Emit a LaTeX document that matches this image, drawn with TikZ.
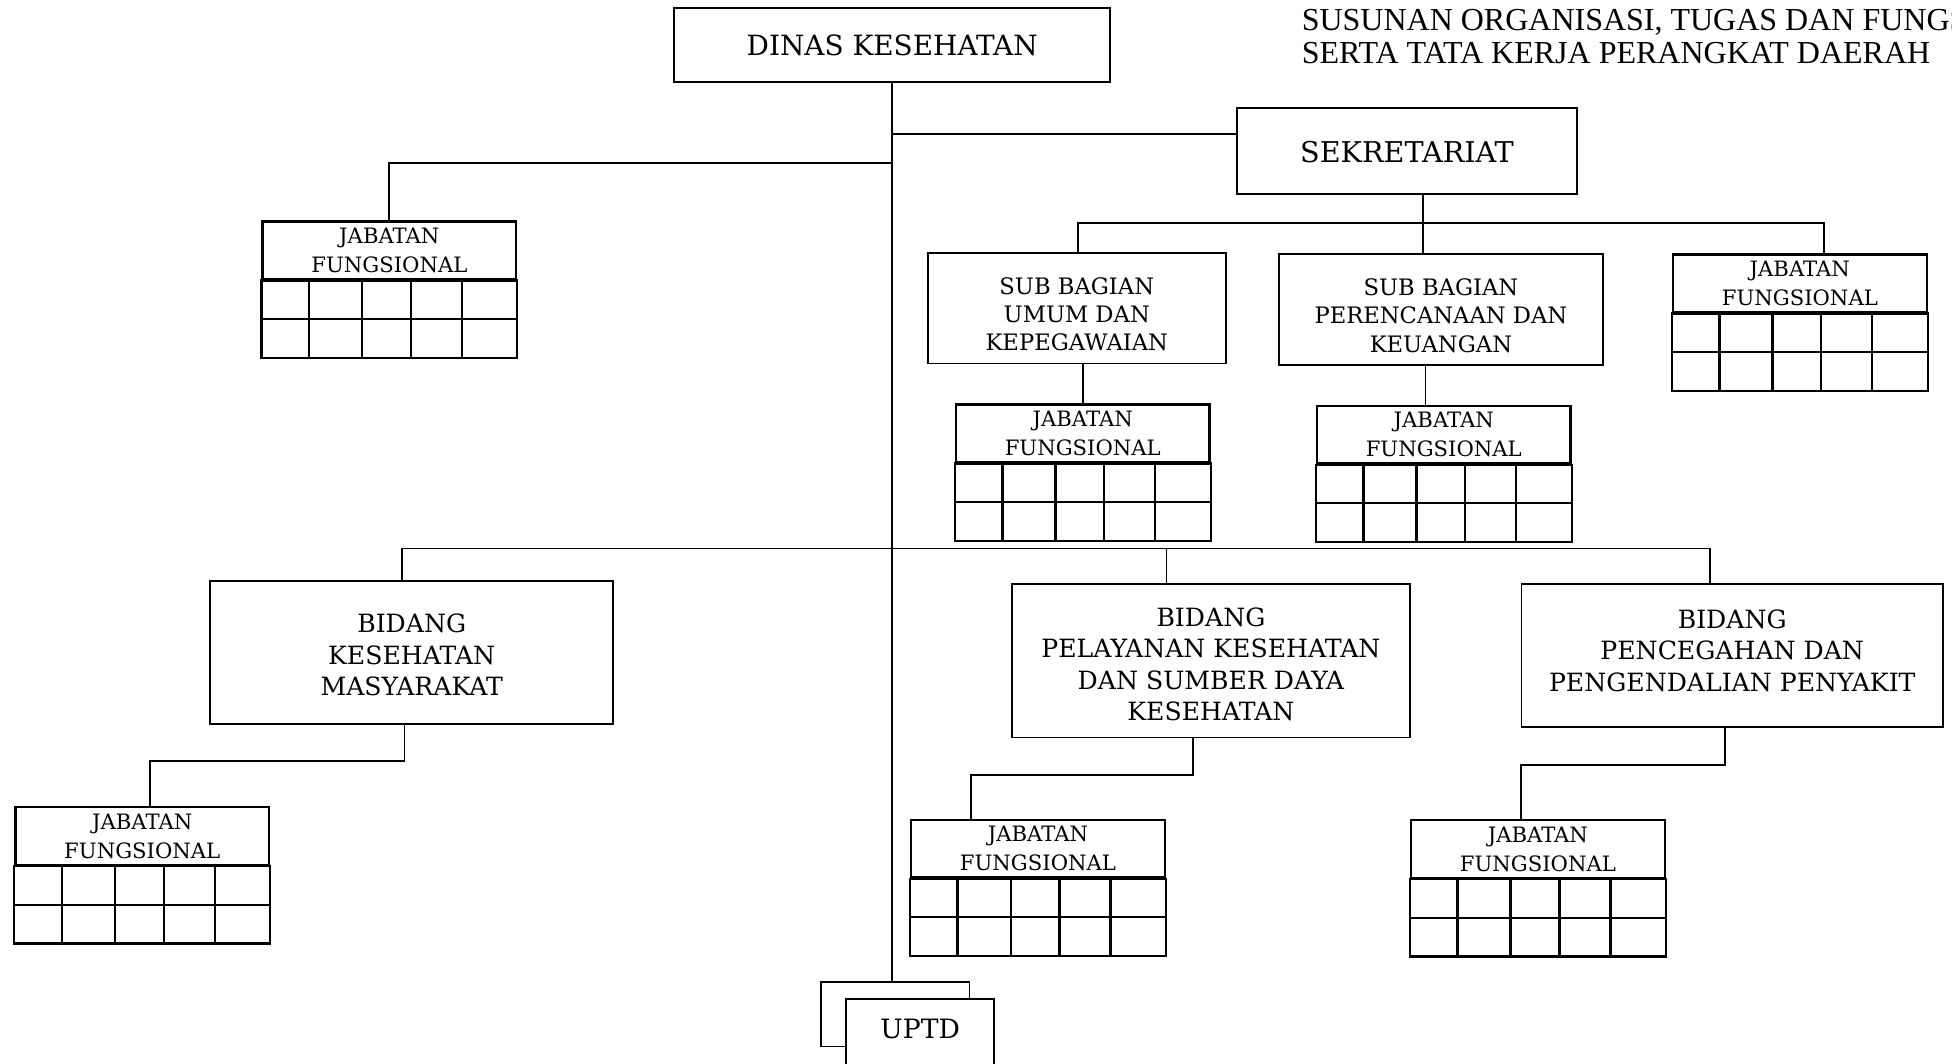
\documentclass[tikz,border=0pt]{standalone}
\usepackage{fontspec}
\setmainfont{DejaVu Serif}
\newfontfamily\judulfont{Liberation Serif}
\usepackage{tikz}

\begin{document}
\begin{tikzpicture}[x=0.5pt, y=-0.5pt]
\useasboundingbox (0,0) rectangle (1568,854);
\clip (0,0) rectangle (1568,854);
\begin{scope}[every node/.style={draw, line width=0.7pt, align=center, anchor=north west, inner sep=0pt},
  jf/.style={line width=0.9pt, minimum width=101.85pt, minimum height=23.25pt, font=\fontsize{8.5}{11.6}\selectfont},
  bidang/.style={font=\fontsize{10.1}{12.6}\selectfont},
  subbag/.style={font=\fontsize{9.1}{11.4}\selectfont},
  garis/.style={line width=0.7pt}]
\node[draw=none, anchor=west, align=left, font=\judulfont\fontsize{12.85}{13.5}\selectfont] (judul) at (1045,29.5) {SUSUNAN ORGANISASI, TUGAS DAN FUNGS\\SERTA TATA KERJA PERANGKAT DAERAH};

\node[minimum width=175pt, minimum height=29.5pt, font=\fontsize{11.2}{13}\selectfont] (dinas) at (541,6) {DINAS KESEHATAN};
\node[minimum width=136.5pt, minimum height=34.5pt, font=\fontsize{11.5}{13}\selectfont] (sekre) at (993,86) {\rule{0pt}{9.9pt}SEKRETARIAT};
\node[subbag, minimum width=119.75pt, minimum height=44.4pt] (sbu) at (744.5,202.5) {\rule{0pt}{11.6pt}SUB BAGIAN\\UMUM DAN\\KEPEGAWAIAN};
\node[subbag, minimum width=130.25pt, minimum height=44.5pt] (sbp) at (1026.5,203.5) {\rule{0pt}{11.6pt}SUB BAGIAN\\PERENCANAAN DAN\\KEUANGAN};
\node[bidang, minimum width=162pt, minimum height=57.5pt] (bkm) at (168,466) {\rule{0pt}{9.4pt}BIDANG\\KESEHATAN\\MASYARAKAT};
\node[bidang, minimum width=160pt, minimum height=61.6pt] (bpk) at (812,468.5) {\rule{0pt}{10.4pt}BIDANG\\PELAYANAN KESEHATAN\\DAN SUMBER DAYA\\KESEHATAN};
\node[bidang, minimum width=169.25pt, minimum height=57.25pt] (bpp) at (1221.5,468.5) {BIDANG\\PENCEGAHAN DAN\\PENGENDALIAN PENYAKIT\rule[-4pt]{0pt}{4pt}};

\node[jf] (jfa) at (210,177) {JABATAN\\FUNGSIONAL};
\node[jf] (jfb) at (767,324) {JABATAN\\FUNGSIONAL};
\node[jf] (jfc) at (1057,325) {JABATAN\\FUNGSIONAL};
\node[jf] (jfd) at (1343,203.5) {JABATAN\\FUNGSIONAL};
\node[jf] (jfe) at (11.5,647.5) {JABATAN\\FUNGSIONAL};
\node[jf] (jff) at (731,657.5) {JABATAN\\FUNGSIONAL};
\node[jf] (jfg) at (1132.6,658) {JABATAN\\FUNGSIONAL};

\foreach \j in {jfa,jfb,jfc,jfd,jfe,jff,jfg} {
  \draw[line width=0.9pt] (\j.south west) rectangle ([yshift=-31pt]\j.south east);
  \draw[line width=0.9pt] ([yshift=-15.5pt]\j.south west) -- ([yshift=-15.5pt]\j.south east);
  \foreach \c in {19.1,40.4,60,80.5}
    \draw[line width=0.9pt] ([xshift=\c pt]\j.south west) -- ++(0,62);
}

\node[minimum width=59.5pt, minimum height=26pt] (uptdb) at (659,788) {};

% garis penghubung
\coordinate (ks) at ([yshift=6.75pt]sekre.west);
\coordinate (sb) at (1143,179);
\coordinate (mk) at (323,440.5);
\coordinate (ml) at (937,440.5);
\coordinate (mp) at (1373.5,440.5);
\coordinate (ke) at (325,611);
\coordinate (kf) at (958.5,622.5);
\coordinate (kg) at (1385.6,614.5);

\draw[garis] (dinas.south) -- (dinas.south |- uptdb.north);
\draw[garis] (dinas.south |- ks) -- (ks);
\draw[garis] (jfa.north) |- (dinas.south |- 0,131);

\draw[garis] (sekre.south -| sb) -- (sbp.north -| sb);
\draw[garis] (sbu.north -| 866,0) |- (sb);
\draw[garis] (jfd.north -| 1465,0) |- (sb);
\draw[garis] (jfb.north |- sbu.south) -- (jfb.north);
\draw[garis] (sbp.south -| 1145,0) -- (jfc.north -| 1145,0);

\draw[garis] (bkm.north -| mk) -- (mk) -- (mp) -- (bpp.north -| mp);
\draw[garis] (ml) -- (bpk.north -| ml);
\draw[garis] (bkm.south -| ke) -- (ke) -| (jfe.north -| 120.5,0);
\draw[garis] (bpk.south -| kf) -- (kf) -| (jff.north -| 780,0);
\draw[garis] (bpp.south -| kg) -- (kg) -| (jfg.north -| 1222,0);

\node[fill=white, minimum width=59.5pt, minimum height=30pt, text depth=6pt, font=\fontsize{10.7}{13}\selectfont] (uptd) at (679,802) {UPTD};
\end{scope}
\end{tikzpicture}
\end{document}
